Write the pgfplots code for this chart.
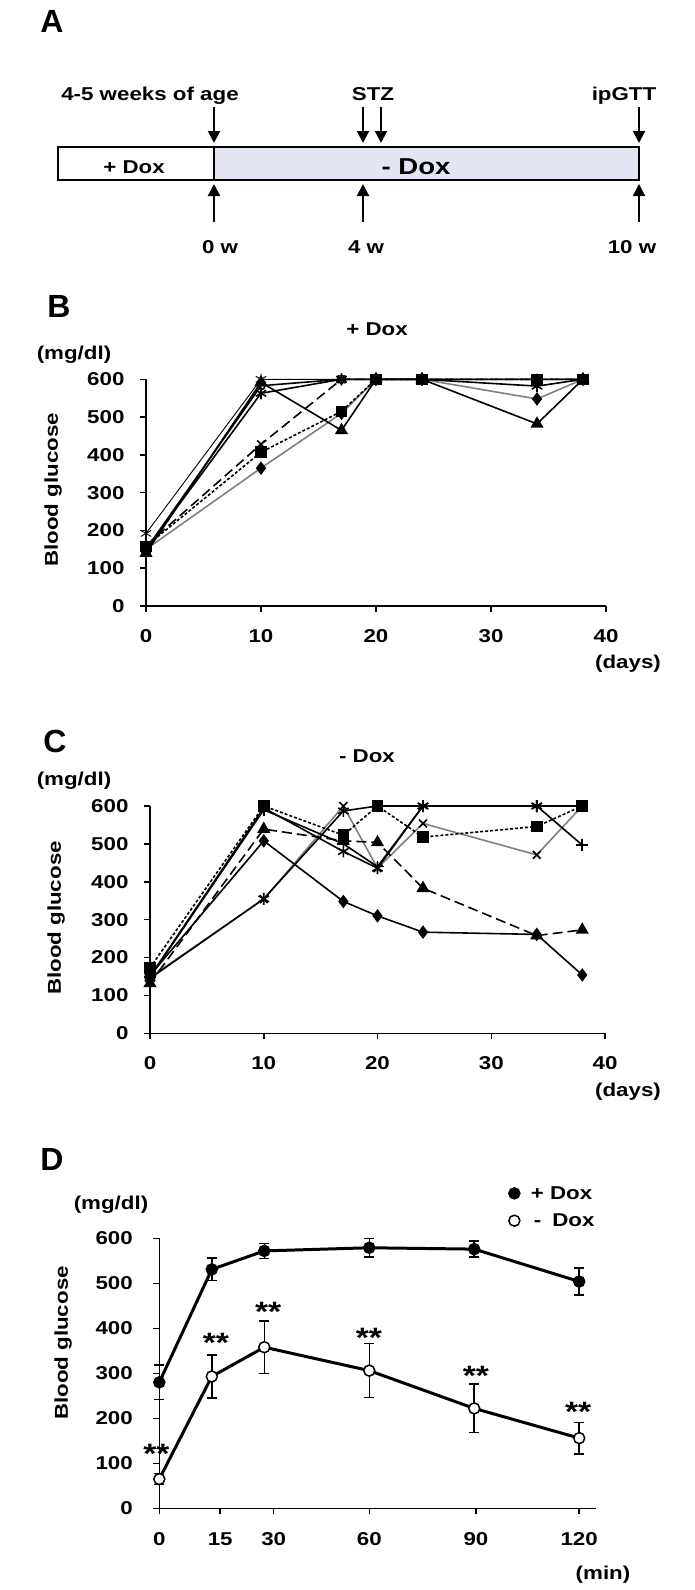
\documentclass[border=0pt]{standalone}
\usepackage{fontspec}
\setmainfont{Liberation Sans}[FakeStretch=1.2]
\newfontfamily\panelfont{Liberation Sans}
\usepackage{pgfplots}
\pgfplotsset{compat=1.18}
\usetikzlibrary{arrows.meta}

\definecolor{cGray}{RGB}{128,128,128}
\definecolor{cLav}{RGB}{228,229,242}

\newcommand{\lbl}{\fontsize{18.6}{20}\selectfont\bfseries}
\newcommand{\lblbig}{\fontsize{23}{25}\selectfont\bfseries}
\newcommand{\panel}{\panelfont\fontsize{32}{34}\selectfont\bfseries}

\tikzset{sigstar/.style={font=\fontsize{28}{28}\selectfont\bfseries, yshift=-6pt}}

\pgfplotsset{
  glucose/.style={
    scale only axis, clip=false, anchor=south west,
    axis lines=left, axis line style={-, line width=1.5pt},
    tick style={black, line width=1.5pt},
    tick align=outside, major tick length=6pt,
    tick label style={font=\lbl},
    /pgf/number format/assume math mode=true,
    ymin=0, ymax=600, ytick={0,100,...,600},
  },
  days/.style={glucose, xmin=0, xmax=40, xtick={0,10,...,40},
    yticklabel style={xshift=-12pt}, xticklabel style={yshift=-14pt}},
  ser/.style={line width=1.6pt, mark options={solid, fill=black, draw=black}},
  dotln/.style={dash pattern=on 3pt off 2pt},
  dashln/.style={dash pattern=on 10pt off 5pt},
}

\begin{document}
\begin{tikzpicture}[x=1pt,y=1pt]
\path[use as bounding box] (0,0) rectangle (694,-1590);

% ---- A: timeline
\node[anchor=base, font=\panel] at (52,-32) {A};
\fill[cLav] (214,-147) rectangle (639,-180);
\draw[line width=1.5pt] (58,-147) rectangle (639,-180);
\draw[line width=1.5pt] (214,-147) -- (214,-180);
\node[anchor=base, font=\lbl] at (134,-173) {+ Dox};
\node[anchor=base, font=\lblbig] at (416,-174) {- Dox};
\foreach \xx in {214,363,381,639}
  \draw[line width=2pt, -{Triangle[width=12pt,length=12pt]}] (\xx,-107) -- (\xx,-143);
\foreach \xx in {214,363,639}
  \draw[line width=2pt, -{Triangle[width=12pt,length=12pt]}] (\xx,-222) -- (\xx,-184);
\node[anchor=base, font=\lbl] at (150,-100) {4-5 weeks of age};
\node[anchor=base, font=\lbl] at (373,-100) {STZ};
\node[anchor=base, font=\lbl] at (624,-100) {ipGTT};
\node[anchor=base, font=\lbl] at (220,-253) {0 w};
\node[anchor=base, font=\lbl] at (366,-253) {4 w};
\node[anchor=base, font=\lbl] at (632,-253) {10 w};

% ---- B: + Dox
\node[anchor=base, font=\panel] at (59,-317) {B};
\node[anchor=base, font=\lbl] at (377,-335) {+ Dox};
\node[anchor=base, font=\lbl] at (74,-359) {(mg/dl)};
\node[rotate=90, font=\lbl] at (53,-490) {Blood glucose};
\node[font=\lbl] at (628,-664) {(days)};
\begin{axis}[days, at={(146pt,-606pt)}, width=460pt, height=226.7pt]
  \addplot[ser, cGray, mark=diamond*, mark size=5.5pt] coordinates {
    (0,150) (10,365) (17,510) (20,600) (24,600) (34,548) (38,600)};
  \addplot[ser, black, dashln, mark=x, mark size=5.5pt] coordinates {
    (0,160) (10,428) (17,600) (20,600) (24,600) (34,600) (38,600)};
  \addplot[ser, black, mark=o, mark size=4pt] coordinates {
    (0,150) (10,583) (17,600) (20,600) (24,600) (34,600) (38,600)};
  \addplot[ser, black, mark=asterisk, mark size=6pt] coordinates {
    (0,150) (10,563) (17,600) (20,600) (24,600) (34,582) (38,600)};
  \addplot[ser, black, line width=0.9pt, mark=asterisk, mark size=6pt] coordinates {
    (0,192) (10,600) (17,600) (20,600) (24,600) (34,600) (38,600)};
  \addplot[ser, black, mark=triangle*, mark size=6pt] coordinates {
    (0,140) (10,592) (17,465) (20,600) (24,600) (34,482) (38,600)};
  \addplot[ser, black, dotln, mark=square*, mark size=5pt] coordinates {
    (0,158) (10,407) (17,515) (20,600) (24,600) (34,600) (38,600)};
\end{axis}

% ---- C: - Dox
\node[anchor=base, font=\panel] at (55,-752) {C};
\node[anchor=base, font=\lbl] at (367,-762) {- Dox};
\node[anchor=base, font=\lbl] at (74,-785) {(mg/dl)};
\node[rotate=90, font=\lbl] at (56,-918) {Blood glucose};
\node[font=\lbl] at (628,-1092) {(days)};
\begin{axis}[days, at={(150pt,-1033.3pt)}, width=455pt, height=227.3pt]
  \addplot[ser, cGray, mark=x, mark size=5.5pt] coordinates {
    (0,148) (10,354) (17,600) (20,436) (24,554) (34,471) (38,600)};
  \addplot[ser, black, mark=asterisk, mark size=6pt] coordinates {
    (0,145) (10,355) (17,587) (20,600) (24,600) (34,600) (38,600)};
  \addplot[ser, black, mark=+, mark size=6pt] coordinates {
    (0,148) (10,590) (17,500) (20,440) (24,600) (34,600) (38,497)};
  \addplot[ser, black, mark=asterisk, mark size=6pt] coordinates {
    (0,150) (10,595) (17,480) (20,436) (24,600) (34,600)};
  \addplot[ser, black, dashln, mark=triangle*, mark size=6pt] coordinates {
    (0,132) (10,539) (17,508) (20,504) (24,383) (34,258) (38,273)};
  \addplot[ser, black, mark=diamond*, mark size=5.5pt] coordinates {
    (0,153) (10,508) (17,348) (20,310) (24,267) (34,261) (38,154)};
  \addplot[ser, black, dotln, mark=square*, mark size=5pt] coordinates {
    (0,173) (10,600) (17,523) (20,600) (24,518) (34,546) (38,600)};
\end{axis}

% ---- D: ipGTT
\node[anchor=base, font=\panel] at (52,-1170) {D};
\node[anchor=base, font=\lbl] at (111,-1209) {(mg/dl)};
\node[rotate=90, font=\lbl] at (63,-1343) {Blood glucose};
\node[font=\lbl] at (603,-1575) {(min)};
\begin{axis}[glucose, at={(159.3pt,-1508.3pt)}, width=436.7pt, height=270pt,
  xmin=0, xmax=124.8, xtick={0,17.4,32.7,60,90.5,120},
  xticklabels={0,15,30,60,90,120},
  yticklabel style={xshift=-17pt}, xticklabel style={yshift=-15pt},
  legend style={at={(0.800,1.201)}, anchor=north west, draw=none, fill=none,
    font=\lbl, inner sep=0pt, row sep=9pt, column sep=9pt},
  legend cell align=left,
  legend image post style={only marks},
]
  \addplot[black, line width=3pt, mark=*, mark size=5.5pt,
    mark options={solid, fill=black, line width=1.5pt},
    error bars/.cd, y dir=both, y explicit,
    error bar style={line width=1.5pt, black},
    error mark options={rotate=90, mark size=5pt, line width=1.5pt, black}]
    coordinates {
    (0,280) +- (0,38)
    (15,531) +- (0,25)
    (30,572) +- (0,17)
    (60,579) +- (0,21)
    (90,576) +- (0,18)
    (120,504) +- (0,30)};
  \addplot[black, line width=3pt, mark=*, mark size=5.5pt,
    mark options={solid, fill=white, line width=1.5pt},
    error bars/.cd, y dir=both, y explicit,
    error bar style={line width=1.5pt, black},
    error mark options={rotate=90, mark size=5pt, line width=1.5pt, black}]
    coordinates {
    (0,65) +- (0,12)
    (15,293) +- (0,48)
    (30,358) +- (0,58)
    (60,306) +- (0,60)
    (90,222) +- (0,54)
    (120,156) +- (0,35)};
  \legend{+ Dox, \hspace{3pt}-\hspace{11pt}Dox}
  \node[sigstar] at (axis cs:-0.8,134) {**};
  \node[sigstar] at (axis cs:16.2,382) {**};
  \node[sigstar] at (axis cs:31.1,450) {**};
  \node[sigstar] at (axis cs:59.9,392) {**};
  \node[sigstar] at (axis cs:90.5,307) {**};
  \node[sigstar] at (axis cs:119.7,227) {**};
\end{axis}
\end{tikzpicture}
\end{document}
